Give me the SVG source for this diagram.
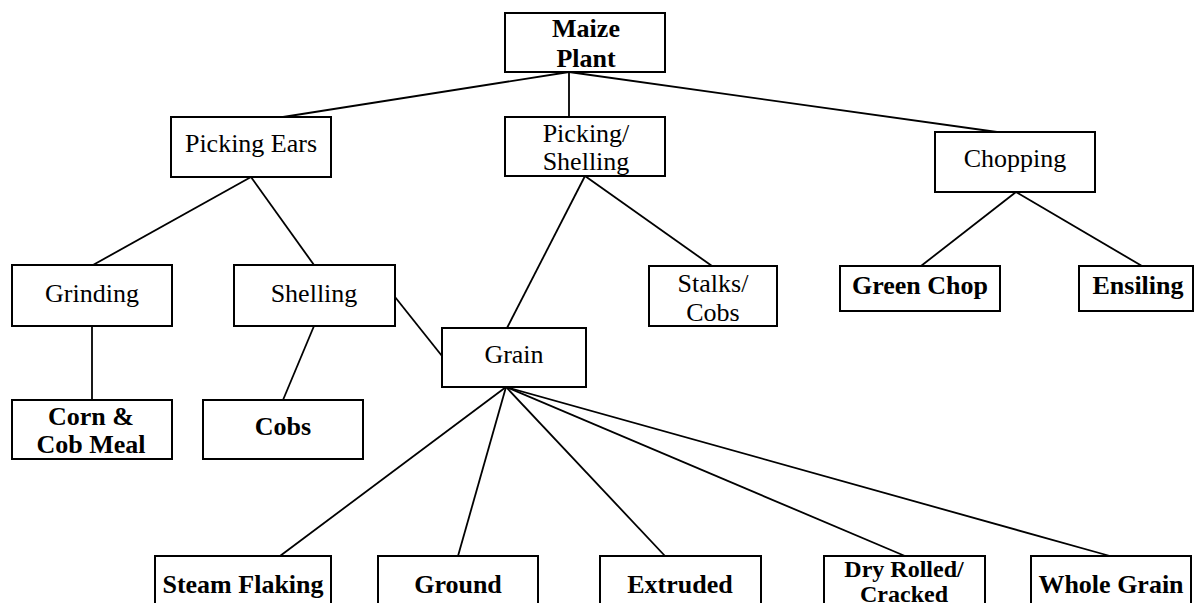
<svg xmlns="http://www.w3.org/2000/svg" width="1194" height="603" viewBox="0 0 1194 603">
<style>
.b{fill:#fff;stroke:#000;stroke-width:2}
.t{font-family:"Liberation Serif","Times New Roman",serif;font-size:26px;fill:#000;text-anchor:middle}
.bt{font-weight:bold}
.sm{font-size:24px}
.c line{stroke:#000;stroke-width:1.8}
</style>
<rect width="1194" height="603" fill="#fff"/>
<g class="c" id="connectors">
<line x1="569" y1="72" x2="283" y2="117"/>
<line x1="569" y1="72" x2="569" y2="117"/>
<line x1="569" y1="72" x2="997" y2="132"/>
<line x1="251" y1="177" x2="93" y2="265"/>
<line x1="251" y1="177" x2="314" y2="265"/>
<line x1="585" y1="176" x2="507" y2="328"/>
<line x1="585" y1="176" x2="712" y2="266"/>
<line x1="1016" y1="192" x2="921" y2="266"/>
<line x1="1016" y1="192" x2="1142" y2="266"/>
<line x1="92" y1="326" x2="92" y2="400"/>
<line x1="314" y1="326" x2="283" y2="400"/>
<line x1="395" y1="297" x2="442" y2="356"/>
<line x1="506" y1="387" x2="280" y2="556"/>
<line x1="506" y1="387" x2="458" y2="556"/>
<line x1="506" y1="387" x2="665" y2="556"/>
<line x1="506" y1="387" x2="905" y2="556"/>
<line x1="506" y1="387" x2="1110" y2="556"/>
</g>
<g id="maize"><rect class="b" x="505" y="13" width="160" height="59"/><text class="t bt" x="586" y="37">Maize</text><text class="t bt" x="586" y="67">Plant</text></g>
<g id="picking-ears"><rect class="b" x="171" y="117" width="160" height="60"/><text class="t" x="251" y="152">Picking Ears</text></g>
<g id="picking-shelling"><rect class="b" x="505" y="117" width="160" height="59"/><text class="t" x="586" y="142">Picking/</text><text class="t" x="586" y="170">Shelling</text></g>
<g id="chopping"><rect class="b" x="935" y="132" width="160" height="60"/><text class="t" x="1015" y="167">Chopping</text></g>
<g id="grinding"><rect class="b" x="12" y="265" width="160" height="61"/><text class="t" x="92" y="302">Grinding</text></g>
<g id="shelling"><rect class="b" x="234" y="265" width="161" height="61"/><text class="t" x="314" y="302">Shelling</text></g>
<g id="stalks-cobs"><rect class="b" x="649" y="266" width="128" height="60"/><text class="t" x="713" y="292">Stalks/</text><text class="t" x="713" y="321">Cobs</text></g>
<g id="green-chop"><rect class="b" x="840" y="266" width="160" height="45"/><text class="t bt" x="920" y="294">Green Chop</text></g>
<g id="ensiling"><rect class="b" x="1079" y="266" width="114" height="45"/><text class="t bt" x="1138" y="294">Ensiling</text></g>
<g id="grain"><rect class="b" x="442" y="328" width="144" height="59"/><text class="t" x="514" y="363">Grain</text></g>
<g id="corn-cob-meal"><rect class="b" x="12" y="400" width="160" height="59"/><text class="t bt" x="91" y="425">Corn &amp;</text><text class="t bt" x="91" y="453">Cob Meal</text></g>
<g id="cobs"><rect class="b" x="203" y="400" width="160" height="59"/><text class="t bt" x="283" y="435">Cobs</text></g>
<g id="steam-flaking"><rect class="b" x="155" y="556" width="176" height="62"/><text class="t bt" x="243" y="593">Steam Flaking</text></g>
<g id="ground"><rect class="b" x="378" y="556" width="160" height="62"/><text class="t bt" x="458" y="593">Ground</text></g>
<g id="extruded"><rect class="b" x="600" y="556" width="161" height="62"/><text class="t bt" x="680" y="593">Extruded</text></g>
<g id="dry-rolled"><rect class="b" x="824" y="556" width="161" height="62"/><text class="t bt sm" x="904" y="577">Dry Rolled/</text><text class="t bt sm" x="904" y="602">Cracked</text></g>
<g id="whole-grain"><rect class="b" x="1031" y="556" width="160" height="62"/><text class="t bt" x="1111" y="593">Whole Grain</text></g>
</svg>
